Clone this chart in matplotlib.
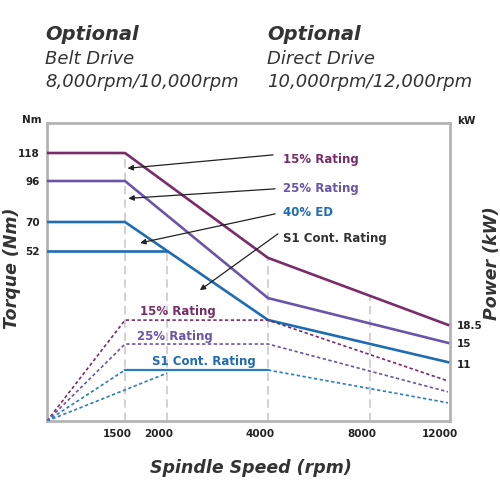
import numpy as np
import matplotlib
matplotlib.use("Agg")
import matplotlib.pyplot as plt
from matplotlib.transforms import ScaledTranslation

# speed axis is drawn schematic (not linear) -> knots: rpm vs relative position
speed_knots = [0, 1500, 2000, 4000, 8000, 12000, 12100]
speed_pos = [0, 78, 120, 221, 323, 401, 403]
# torque axis is schematic too
torque_knots = [0, 52, 70, 96, 118, 141]
torque_pos = [0, 170, 199, 240, 268, 298]

speed_ticks = [1500, 2000, 4000, 8000, 12000]
torque_ticks = [52, 70, 96, 118]
power_ticks = [11, 15, 18.5]

# torque curves (Nm)
t15_x = [0, 1500, 4000, 12000]
t15_y = [118, 118, 49.9, 29.4]
t25_x = [0, 1500, 4000, 12000]
t25_y = [96, 96, 37.6, 23.9]
t40_x = [0, 1500, 4000, 12000]
t40_y = [70, 70, 30.9, 18.0]
ts1_x = [0, 2000]
ts1_y = [52, 52]

# power curves (kW)
p15_x = [0, 1500, 4000, 12000]
p15_y = [0, 19.4, 19.4, 7.7]
p25_x = [0, 1500, 4000, 12000]
p25_y = [0, 14.8, 14.8, 5.6]
ps1_ramp_x = [0, 1500]
ps1_ramp_y = [0, 9.8]
ps1_x = [1500, 4000]
ps1_y = [9.8, 9.8]
ps1_tail_x = [4000, 12000]
ps1_tail_y = [9.8, 3.5]
ps1b_x = [0, 2000]
ps1b_y = [0, 9.2]

# guide lines
guide_x = [1500, 2000, 4000, 8000]
guide_top = [117, 52, 49.5, 38]

purple = "#7a2b6a"
violet = "#6a55a8"
blue = "#1d6cb4"
blue2 = "#2a7cc4"
dark = "#333333"


def fwd_x(v):
    return np.interp(v, speed_knots, speed_pos)


def inv_x(v):
    return np.interp(v, speed_pos, speed_knots)


def fwd_t(v):
    return np.interp(v, torque_knots, torque_pos)


def inv_t(v):
    return np.interp(v, torque_pos, torque_knots)


fig = plt.figure(figsize=(5, 5), dpi=100)
ax = fig.add_axes([0.094, 0.158, 0.806, 0.596])
ax.set_xscale("function", functions=(fwd_x, inv_x))
ax.set_yscale("function", functions=(fwd_t, inv_t))
ax.set_xlim(0, 12100)
ax.set_ylim(0, 141)

ax.vlines(guide_x, 0, guide_top, colors="#c9c9c9", linestyles=(0, (5, 3)), lw=1.2, zorder=1)

ax.plot(t15_x, t15_y, color=purple, lw=1.9, zorder=3)
ax.plot(t25_x, t25_y, color=violet, lw=1.9, zorder=3)
ax.plot(t40_x, t40_y, color=blue, lw=1.9, zorder=3)
ax.plot(ts1_x, ts1_y, color=blue, lw=1.9, zorder=3)

ax.set_xticks(speed_ticks)
ax.set_xticklabels([str(s) for s in speed_ticks])
ax.set_yticks(torque_ticks)
ax.set_yticklabels([str(t) for t in torque_ticks])
ax.minorticks_off()
ax.tick_params(length=0, labelsize=7.5, colors="#222222")
ax.tick_params(axis="x", pad=6)
ax.tick_params(axis="y", pad=5)
for lbl in ax.get_xticklabels() + ax.get_yticklabels():
    lbl.set_fontweight("bold")
for lbl in ax.get_xticklabels():
    lbl.set_transform(lbl.get_transform() + ScaledTranslation(-0.08, 0, fig.dpi_scale_trans))

for s in ax.spines.values():
    s.set_color("#b4b4b4")
    s.set_linewidth(2)

ax2 = ax.twinx()
ax2.set_ylim(0, 57.3)
ax2.plot(p15_x, p15_y, color=purple, lw=1.2, ls=(0, (2, 1.5)), zorder=2)
ax2.plot(p25_x, p25_y, color=violet, lw=1.2, ls=(0, (2, 1.5)), zorder=2)
ax2.plot(ps1_ramp_x, ps1_ramp_y, color=blue2, lw=1.2, ls=(0, (2, 1.5)), zorder=2)
ax2.plot(ps1_x, ps1_y, color=blue2, lw=1.6, zorder=2)
ax2.plot(ps1_tail_x, ps1_tail_y, color=blue2, lw=1.2, ls=(0, (2, 1.5)), zorder=2)
ax2.plot(ps1b_x, ps1b_y, color=blue2, lw=1.2, ls=(0, (2, 1.5)), zorder=2)
ax2.set_yticks(power_ticks)
ax2.set_yticklabels(["11", "15", "18.5"])
ax2.tick_params(length=0, labelsize=7.5, colors="#222222", pad=5)
for lbl in ax2.get_yticklabels():
    lbl.set_fontweight("bold")
for s in ax2.spines.values():
    s.set_visible(False)

# callouts
arrow = dict(arrowstyle="-|>", color="#222222", lw=0.9, mutation_scale=8, shrinkA=0, shrinkB=0)
callouts = [
    ("15% Rating", purple, (1530, 106), (0.561, 0.893), 0.586, 0.876),
    ("25% Rating", violet, (1540, 85), (0.566, 0.779), 0.586, 0.779),
    ("40% ED", blue, (1680, 57), (0.566, 0.695), 0.586, 0.701),
    ("S1 Cont. Rating", dark, (2650, 40), (0.573, 0.628), 0.586, 0.614),
]
for txt, col, tip, tail, tx, ty in callouts:
    ax.annotate("", xy=tip, xycoords="data", xytext=tail, textcoords="axes fraction",
                arrowprops=arrow, zorder=5)
    ax.text(tx, ty, txt, transform=ax.transAxes, color=col, fontsize=8.5,
            fontweight="bold", ha="left", va="center")

ax.text(0.231, 0.366, "15% Rating", transform=ax.transAxes, color=purple, fontsize=8.5,
        fontweight="bold", ha="left", va="center")
ax.text(0.223, 0.285, "25% Rating", transform=ax.transAxes, color=violet, fontsize=8.5,
        fontweight="bold", ha="left", va="center")
ax.text(0.261, 0.198, "S1 Cont. Rating", transform=ax.transAxes, color=blue, fontsize=8.5,
        fontweight="bold", ha="left", va="center")

# unit labels
fig.text(0.064, 0.76, "Nm", fontsize=7.5, fontweight="bold", color="#222222", ha="center", va="center")
fig.text(0.932, 0.758, "kW", fontsize=7.5, fontweight="bold", color="#222222", ha="center", va="center")

# axis titles
fig.text(0.502, 0.064, "Spindle Speed (rpm)", fontsize=12.5, fontweight="bold", style="italic",
         color=dark, ha="center", va="center")
fig.text(0.024, 0.464, "Torque (Nm)", fontsize=12.5, fontweight="bold", style="italic",
         color=dark, ha="center", va="center", rotation=90)
fig.text(0.984, 0.474, "Power (kW)", fontsize=12.5, fontweight="bold", style="italic",
         color=dark, ha="center", va="center", rotation=90)

# header
for x0, sub1, sub2 in [(0.09, "Belt Drive", "8,000rpm/10,000rpm"),
                       (0.534, "Direct Drive", "10,000rpm/12,000rpm")]:
    fig.text(x0, 0.92, "Optional", fontsize=14, fontweight="bold", style="italic",
             color=dark, ha="left", va="baseline")
    fig.text(x0, 0.872, sub1, fontsize=13, style="italic", color=dark, ha="left", va="baseline")
    fig.text(x0, 0.826, sub2, fontsize=13, style="italic", color=dark, ha="left", va="baseline")

fig.savefig("out.png", dpi=100)
